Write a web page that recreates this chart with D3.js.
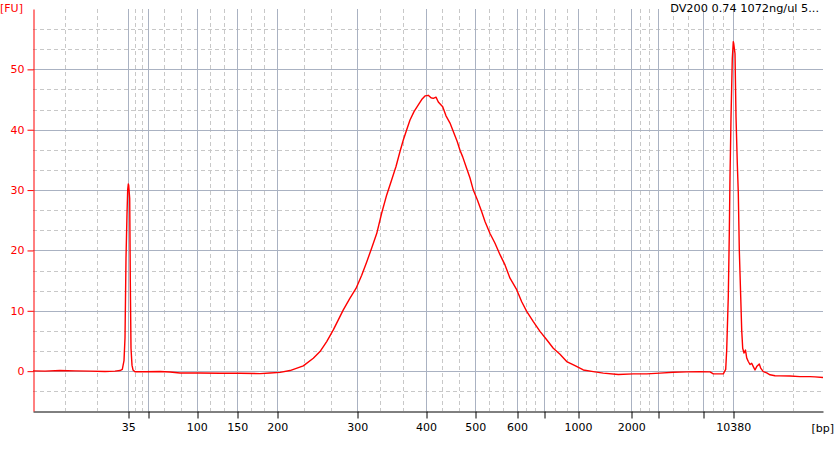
<!DOCTYPE html>
<html><head><meta charset="utf-8">
<script src="https://cdn.jsdelivr.net/npm/d3@7/dist/d3.min.js"></script>
<style>body{margin:0;background:#fff}svg{display:block}</style>
</head><body>
<svg id="chart" width="840" height="451"></svg>
<script>
// ---- data ----
const titleText = "DV200 0.74 1072ng/ul 5...";
const yAxisLabel = "[FU]";
const xAxisLabel = "[bp]";
// ladder sizes (bp) and their migration times (s)
const ladderBp    = [35, 50, 100, 150, 200, 300, 400, 500, 600, 700, 1000, 2000, 3000, 7000, 10380];
const ladderTime  = [44.53, 46.53, 51.37, 55.43, 59.43, 67.43, 74.30, 79.23, 83.40, 86.07, 89.50, 94.83, 97.53, 102.03, 105.03];
const ladderLabel = ["35", "", "100", "150", "200", "300", "400", "500", "600", "", "1000", "2000", "", "", "10380"];
const timeRange = [35, 114];
const fuRange = [-6.6, 60];
const yTicks = [0, 10, 20, 30, 40, 50];
// electropherogram trace: time (s) and fluorescence (FU)
const traceTime = [35.00,36.20,37.70,39.20,40.70,42.20,43.20,43.70,43.93,44.10,44.20,44.30,44.40,44.47,44.53,44.57,44.67,44.73,44.80,44.90,45.00,45.20,46.20,47.70,48.70,49.70,51.70,53.70,55.70,57.70,58.70,59.70,60.70,62.03,63.03,63.70,64.37,65.03,65.53,66.03,66.70,67.30,67.87,68.37,68.87,69.37,69.87,70.37,70.87,71.30,71.70,72.03,72.37,72.70,73.10,73.53,73.87,74.20,74.53,74.80,75.03,75.30,75.53,75.97,76.30,76.70,77.03,77.43,77.70,77.97,78.30,78.70,79.03,79.43,79.87,80.20,80.70,81.20,81.70,82.20,82.70,83.37,83.87,84.37,85.03,85.70,86.37,87.03,87.70,88.37,89.20,90.03,91.03,92.03,93.53,95.03,96.37,97.70,99.03,100.37,101.70,102.70,103.03,104.03,104.27,104.37,104.53,104.63,104.70,104.80,104.93,105.03,105.07,105.20,105.30,105.43,105.53,105.63,105.77,105.87,105.97,106.10,106.25,106.37,106.53,106.70,106.87,107.03,107.20,107.37,107.63,107.77,108.03,108.37,108.70,109.20,109.70,110.70,111.70,112.70,113.20,114.00];
const traceFU   = [0.05,0.00,0.10,0.05,0.00,-0.05,0.00,0.10,0.30,1.75,5.5,18.7,26.0,30.1,31.0,30.8,28.6,15.0,3.8,1.0,0.2,-0.10,-0.10,-0.05,-0.15,-0.30,-0.30,-0.35,-0.35,-0.40,-0.30,-0.20,0.10,0.88,2.15,3.25,4.9,6.84,8.5,10.15,12.1,13.7,15.9,18.1,20.4,22.8,26.2,29.2,31.7,33.9,36.4,38.3,40.0,41.6,43.0,44.1,45.0,45.6,45.7,45.3,45.2,45.4,44.6,43.8,42.3,41.1,39.7,38.0,36.6,35.5,33.9,32.0,30.0,28.4,26.4,24.8,22.8,21.2,19.3,17.6,15.4,13.5,11.5,9.9,8.2,6.6,5.2,3.8,2.8,1.6,0.9,0.2,-0.07,-0.33,-0.56,-0.45,-0.45,-0.33,-0.17,-0.12,-0.07,-0.12,-0.45,-0.45,0.3,3.5,12.4,22.8,32.2,41.9,51.8,54.6,54.3,52.6,42.2,34.4,29.5,20.1,12.4,6.8,3.8,3.0,3.5,2.2,1.6,1.1,1.3,0.76,0.2,0.76,1.2,0.5,-0.07,-0.3,-0.6,-0.75,-0.78,-0.8,-0.9,-0.9,-0.95,-1.05];

// ---- layout ----
const svg = d3.select("#chart");
const plot = {left: 33, right: 823, top: 9, bottom: 411};
const FONT = "DejaVu Sans, sans-serif";
const x = d3.scaleLinear().domain(timeRange).range([plot.left, plot.right]);
const y = d3.scaleLinear().domain(fuRange).range([plot.bottom, plot.top]);

svg.append("rect").attr("width", 840).attr("height", 451).attr("fill", "#fff");

// minor (dashed) grid: thirds between consecutive major positions
const xBounds = [timeRange[0], ...ladderTime, timeRange[1]];
const xMinor = [];
for (let i = 0; i < xBounds.length - 1; i++) {
  const a = xBounds[i], b = xBounds[i + 1];
  xMinor.push(a + (b - a) / 3, a + 2 * (b - a) / 3);
}
const yMinor = [];
for (let v = -10; v < 60; v += 10) {
  [v + 10 / 3, v + 20 / 3].forEach(t => { if (t > fuRange[0] && t < fuRange[1]) yMinor.push(t); });
}
const grid = svg.append("g");
grid.selectAll(".xm").data(xMinor).join("line")
  .attr("x1", d => Math.round(x(d)) + 0.5).attr("x2", d => Math.round(x(d)) + 0.5)
  .attr("y1", plot.top).attr("y2", plot.bottom)
  .attr("stroke", "#c8c8c8").attr("stroke-dasharray", "4,3");
grid.selectAll(".ym").data(yMinor).join("line")
  .attr("y1", d => Math.round(y(d)) + 0.5).attr("y2", d => Math.round(y(d)) + 0.5)
  .attr("x1", plot.left).attr("x2", plot.right)
  .attr("stroke", "#c8c8c8").attr("stroke-dasharray", "4,3");
grid.selectAll(".xM").data(ladderTime).join("line")
  .attr("x1", d => Math.round(x(d)) + 0.5).attr("x2", d => Math.round(x(d)) + 0.5)
  .attr("y1", plot.top).attr("y2", plot.bottom)
  .attr("stroke", "#aab2c2");
grid.selectAll(".yM").data(yTicks).join("line")
  .attr("y1", d => Math.round(y(d)) + 0.5).attr("y2", d => Math.round(y(d)) + 0.5)
  .attr("x1", plot.left).attr("x2", plot.right)
  .attr("stroke", "#aab2c2");

// trace
svg.append("clipPath").attr("id", "clip").append("rect")
  .attr("x", plot.left).attr("y", plot.top)
  .attr("width", plot.right - plot.left).attr("height", plot.bottom - plot.top);
const pts = traceTime.map((t, i) => [t, traceFU[i]]);
svg.append("path").datum(pts)
  .attr("clip-path", "url(#clip)")
  .attr("fill", "none").attr("stroke", "#ff0000").attr("stroke-width", 1.4)
  .attr("stroke-linejoin", "round")
  .attr("d", d3.line().x(d => x(d[0])).y(d => y(d[1])));

// x axis
const xAxis = svg.append("g").attr("transform", `translate(0,${plot.bottom + 0.5})`)
  .call(d3.axisBottom(x).tickValues(ladderTime).tickFormat((d, i) => ladderLabel[i])
    .tickSize(7).tickSizeOuter(0).tickPadding(5));
xAxis.select(".domain").attr("stroke", "#000");
xAxis.selectAll(".tick line").attr("stroke", "#000")
  .attr("transform", d => `translate(${Math.round(x(d)) + 0.5 - x(d)},0)`);
xAxis.selectAll("text").attr("font-family", FONT).attr("font-size", 11).attr("fill", "#000");

// y axis
const yAxis = svg.append("g").attr("transform", `translate(${plot.left + 0.5},0)`)
  .call(d3.axisLeft(y).tickValues(yTicks).tickSize(6).tickSizeOuter(0).tickPadding(3));
yAxis.select(".domain").attr("stroke", "#ff0000");
yAxis.selectAll(".tick line").attr("stroke", "#ff0000");
yAxis.selectAll("text").attr("font-family", FONT).attr("font-size", 11).attr("fill", "#ff0000");

// labels
svg.append("text").attr("x", 0).attr("y", 12).text(yAxisLabel)
  .attr("font-family", FONT).attr("font-size", 11).attr("fill", "#ff0000");
svg.append("text").attr("x", 834).attr("y", 432).attr("text-anchor", "end").text(xAxisLabel)
  .attr("font-family", FONT).attr("font-size", 11).attr("fill", "#000");
svg.append("text").attr("x", 819).attr("y", 12).attr("text-anchor", "end").text(titleText)
  .attr("font-family", FONT).attr("font-size", 11.3).attr("fill", "#000");
</script>
</body></html>
